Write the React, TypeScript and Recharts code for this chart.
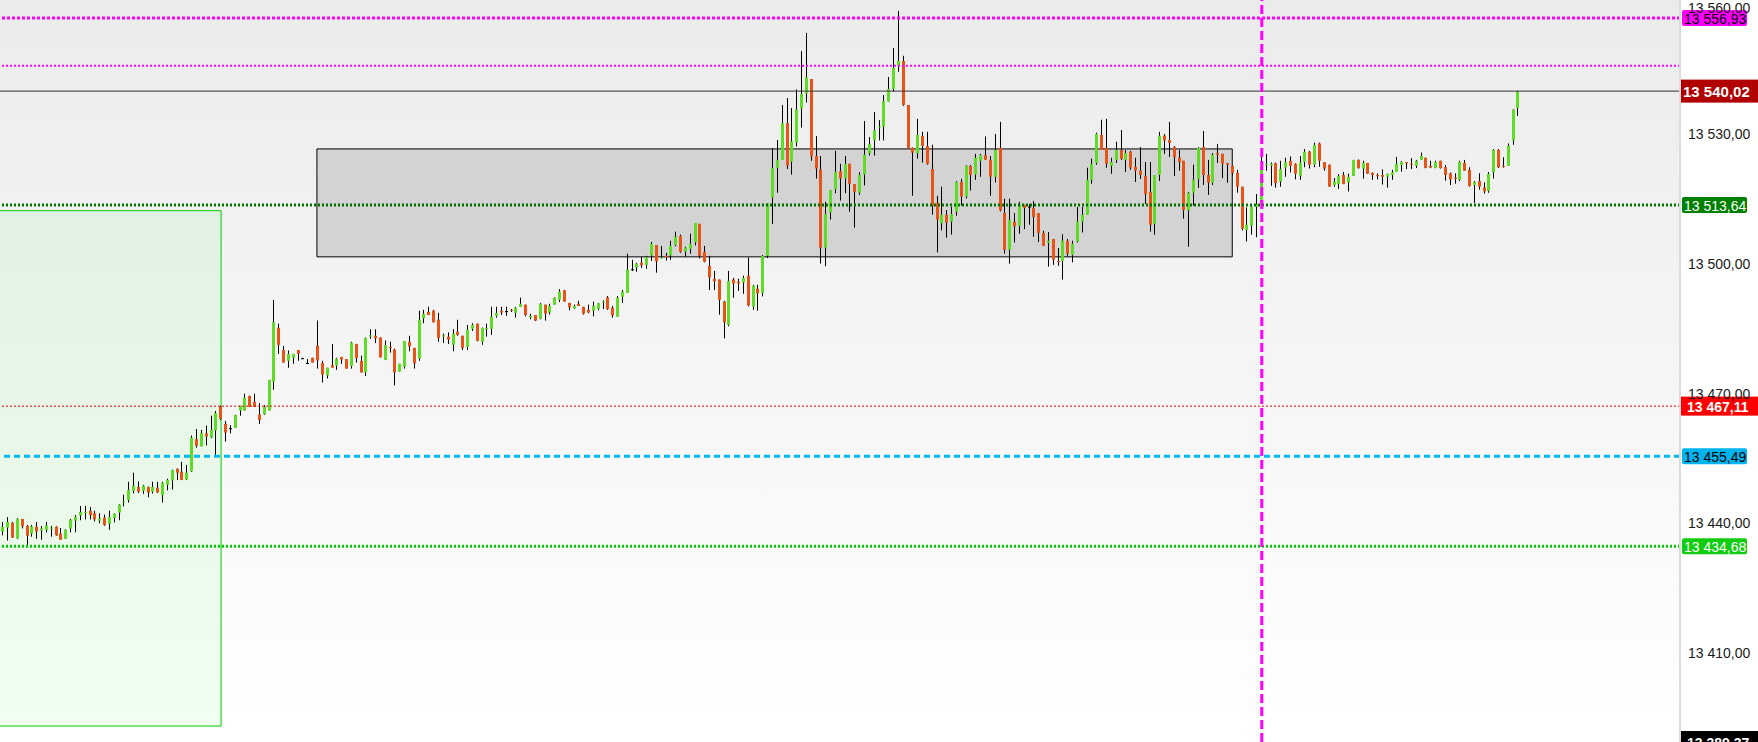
import React from 'react';
import { ComposedChart, Bar, XAxis, YAxis, ReferenceLine, ReferenceArea } from 'recharts';

// [open, high, low, close] per bar, oldest first
const ohlc: number[][] = [
  [13438.1,13440.3,13437.2,13439.2],[13439.0,13441.4,13436.0,13440.3],[13440.1,13440.3,13436.6,13436.7],[13436.5,13441.2,13436.4,13441.0],
  [13441.0,13441.0,13438.8,13439.3],[13439.4,13439.6,13435.0,13437.1],[13437.6,13439.6,13436.9,13439.3],[13439.2,13440.3,13436.4,13438.1],
  [13438.3,13439.4,13436.2,13438.8],[13438.5,13440.3,13437.9,13439.5],[13438.8,13439.4,13436.9,13439.0],[13439.2,13439.3,13437.1,13437.2],
  [13437.6,13438.9,13436.2,13436.2],[13436.4,13438.6,13436.4,13438.5],[13438.8,13441.0,13437.9,13440.8],[13440.6,13441.9,13437.9,13441.5],
  [13441.8,13444.0,13440.7,13442.6],[13442.4,13444.0,13440.9,13442.6],[13442.9,13443.8,13440.9,13441.9],[13442.3,13442.9,13440.4,13440.9],
  [13440.6,13442.3,13440.0,13441.1],[13441.3,13442.0,13439.4,13439.6],[13439.9,13442.9,13438.5,13441.5],[13441.2,13442.3,13440.2,13442.2],
  [13442.5,13444.4,13440.7,13444.3],[13444.8,13446.6,13443.9,13445.0],[13445.4,13449.6,13444.8,13447.7],[13447.5,13451.7,13446.9,13448.7],
  [13448.4,13449.7,13447.0,13447.3],[13447.5,13448.9,13446.8,13448.7],[13448.4,13448.5,13446.0,13447.1],[13447.3,13449.6,13446.9,13448.4],
  [13448.2,13449.6,13447.0,13447.1],[13446.5,13449.6,13444.8,13449.4],[13448.9,13450.3,13447.6,13450.0],[13449.9,13452.4,13447.8,13452.3],
  [13452.6,13452.7,13450.0,13451.7],[13451.9,13454.2,13450.0,13450.0],[13450.1,13453.5,13450.0,13451.7],[13452.0,13460.3,13451.9,13459.8],
  [13459.5,13461.8,13457.5,13457.9],[13457.8,13461.6,13457.8,13460.9],[13460.8,13462.6,13458.0,13460.1],[13459.9,13464.9,13459.7,13461.6],
  [13461.5,13466.0,13455.6,13465.5],[13467.0,13467.2,13463.9,13464.1],[13463.0,13463.7,13458.9,13461.0],[13462.0,13462.7,13460.8,13462.0],
  [13462.1,13465.1,13462.1,13465.1],[13466.1,13467.2,13464.9,13467.2],[13466.1,13470.0,13466.1,13469.1],[13469.5,13469.5,13466.9,13466.9],
  [13468.1,13470.0,13466.9,13466.9],[13465.2,13467.8,13463.0,13463.9],[13465.2,13467.3,13465.1,13466.9],[13466.1,13473.2,13466.1,13473.2],
  [13472.8,13491.7,13470.9,13486.5],[13485.2,13486.2,13479.2,13481.3],[13480.1,13481.0,13477.2,13477.2],[13477.6,13480.0,13476.0,13479.2],
  [13478.3,13479.2,13476.9,13479.2],[13480.1,13480.1,13477.6,13479.2],[13478.2,13478.3,13478.1,13478.2],[13477.1,13478.0,13477.1,13477.1],
  [13478.3,13478.3,13477.2,13477.2],[13481.1,13486.9,13475.8,13477.7],[13477.1,13477.6,13472.6,13474.4],[13474.2,13476.0,13473.5,13476.0],
  [13476.6,13481.5,13476.0,13476.0],[13476.5,13478.3,13475.5,13478.1],[13478.5,13478.5,13476.9,13477.9],[13478.0,13478.0,13475.8,13475.8],
  [13476.4,13482.0,13475.8,13481.8],[13481.5,13481.5,13477.2,13478.2],[13477.6,13478.8,13474.9,13474.9],[13474.9,13483.0,13474.1,13482.9],
  [13483.2,13484.9,13482.7,13483.5],[13483.4,13484.9,13481.7,13482.8],[13483.0,13483.0,13478.4,13478.4],[13477.8,13482.3,13477.8,13481.2],
  [13480.8,13482.0,13479.5,13480.7],[13480.2,13480.4,13471.9,13474.9],[13475.1,13476.9,13475.1,13476.9],[13476.2,13482.2,13475.8,13482.2],
  [13482.0,13483.4,13479.8,13480.9],[13480.6,13480.6,13475.8,13477.0],[13478.1,13489.2,13477.6,13487.1],[13487.4,13489.4,13486.3,13488.5],
  [13488.9,13490.1,13488.2,13488.2],[13489.2,13489.4,13486.5,13486.5],[13487.1,13488.7,13482.0,13482.9],[13483.2,13483.9,13481.7,13483.5],
  [13483.2,13484.2,13481.5,13482.5],[13481.3,13484.9,13479.8,13483.9],[13484.3,13487.1,13483.4,13483.6],[13483.4,13483.4,13480.1,13480.6],
  [13480.8,13485.9,13480.1,13484.8],[13485.0,13486.3,13484.5,13485.9],[13486.2,13486.2,13482.1,13482.2],[13482.0,13485.3,13481.3,13485.2],
  [13485.1,13486.2,13483.2,13485.2],[13485.0,13490.1,13483.6,13487.8],[13488.0,13490.1,13487.6,13488.7],[13489.2,13490.1,13488.2,13488.8],
  [13489.1,13490.1,13488.0,13489.1],[13489.4,13489.6,13488.9,13489.2],[13488.7,13490.1,13487.6,13489.9],[13490.1,13492.2,13490.1,13490.8],
  [13490.6,13490.6,13487.9,13488.2],[13487.6,13488.5,13487.2,13488.0],[13488.2,13488.2,13486.8,13486.9],[13487.3,13491.0,13487.2,13490.8],
  [13490.6,13490.6,13486.9,13488.5],[13488.8,13490.8,13488.3,13490.3],[13490.6,13492.3,13490.6,13492.2],[13491.7,13494.2,13491.2,13493.6],
  [13493.9,13494.0,13491.3,13491.3],[13491.0,13491.0,13489.3,13490.0],[13489.7,13490.6,13489.6,13490.3],[13490.8,13491.5,13490.3,13490.3],
  [13490.1,13490.1,13488.3,13488.5],[13489.4,13490.6,13488.6,13488.8],[13489.2,13491.3,13487.9,13490.3],[13489.6,13491.0,13489.3,13490.9],
  [13491.1,13491.6,13489.6,13491.3],[13492.3,13492.6,13489.4,13489.6],[13489.9,13490.3,13487.6,13488.1],[13487.8,13492.6,13487.8,13492.2],
  [13492.4,13494.0,13491.0,13493.6],[13493.3,13502.4,13493.3,13498.7],[13498.8,13501.0,13498.4,13498.8],[13499.2,13500.3,13498.2,13500.1],
  [13500.3,13501.6,13499.1,13499.7],[13499.8,13501.9,13498.9,13501.6],[13502.0,13505.1,13500.7,13504.7],[13504.4,13504.4,13498.0,13500.6],
  [13501.3,13504.2,13501.3,13501.5],[13501.9,13502.6,13500.8,13501.6],[13502.0,13505.4,13501.0,13504.2],[13504.4,13507.5,13504.1,13506.3],
  [13506.5,13506.8,13502.6,13502.8],[13502.9,13504.0,13501.7,13503.8],[13503.5,13507.0,13502.4,13504.7],[13505.0,13509.5,13504.3,13509.5],
  [13509.3,13509.3,13501.3,13501.9],[13502.8,13504.2,13500.4,13500.5],[13499.6,13501.9,13494.0,13496.9],[13496.6,13498.4,13494.0,13496.0],
  [13496.4,13496.4,13488.3,13491.7],[13491.3,13491.5,13482.8,13486.5],[13485.9,13498.4,13485.6,13496.1],[13496.4,13496.8,13492.2,13495.5],
  [13495.9,13496.6,13493.8,13495.5],[13495.7,13497.3,13493.1,13496.8],[13497.3,13501.5,13490.2,13490.4],[13490.1,13495.2,13489.4,13495.0],
  [13494.3,13495.2,13489.2,13493.2],[13493.3,13502.1,13492.5,13501.9],[13501.9,13514.1,13501.4,13514.1],[13515.4,13526.8,13509.3,13522.2],
  [13522.3,13528.7,13516.5,13524.1],[13524.1,13536.8,13524.1,13532.6],[13532.6,13538.4,13522.0,13522.8],[13523.7,13536.1,13520.7,13528.4],
  [13528.1,13540.4,13527.2,13535.8],[13536.0,13549.3,13531.6,13539.4],[13539.5,13553.5,13537.4,13543.2],[13542.8,13542.8,13523.9,13524.9],
  [13525.0,13529.6,13519.8,13522.1],[13521.9,13525.0,13500.1,13503.8],[13503.8,13514.4,13499.5,13511.6],[13511.9,13517.1,13510.3,13517.1],
  [13517.3,13526.2,13516.4,13521.3],[13521.5,13523.2,13514.7,13519.8],[13519.8,13525.0,13516.4,13523.2],[13523.2,13523.2,13512.1,13518.6],
  [13518.5,13518.5,13508.4,13516.7],[13516.5,13521.3,13516.0,13520.6],[13520.7,13533.1,13518.2,13525.3],[13525.6,13529.4,13525.1,13527.8],
  [13528.6,13535.2,13525.1,13531.0],[13531.6,13533.3,13528.6,13531.8],[13531.8,13539.1,13528.6,13537.7],[13537.6,13543.3,13537.6,13540.5],
  [13540.5,13550.0,13539.9,13545.4],[13545.9,13558.6,13544.5,13547.0],[13547.0,13548.2,13536.6,13536.8],[13536.8,13536.8,13526.9,13526.9],
  [13526.9,13527.0,13515.8,13525.8],[13525.6,13533.6,13524.4,13529.9],[13529.6,13530.6,13523.5,13527.3],[13527.3,13530.6,13523.0,13523.2],
  [13522.0,13527.6,13511.4,13513.5],[13514.2,13515.8,13502.7,13510.3],[13509.4,13517.9,13507.8,13511.4],[13511.4,13512.5,13506.1,13509.6],
  [13509.8,13513.2,13506.8,13511.6],[13512.1,13519.2,13511.2,13519.0],[13519.0,13519.7,13513.5,13515.6],[13515.6,13522.9,13515.2,13522.7],
  [13522.7,13522.9,13517.0,13520.6],[13520.7,13525.5,13519.5,13524.6],[13523.9,13525.5,13520.2,13525.2],[13525.2,13529.5,13524.1,13524.1],
  [13524.1,13525.0,13515.8,13520.2],[13520.2,13530.1,13518.9,13526.4],[13526.9,13532.9,13512.2,13512.4],[13511.8,13515.1,13502.4,13503.3],
  [13503.3,13515.1,13500.1,13510.2],[13509.8,13511.8,13505.0,13508.7],[13508.8,13514.4,13507.0,13513.7],[13513.7,13513.7,13508.1,13513.0],
  [13513.3,13513.9,13509.1,13513.3],[13513.0,13514.6,13506.3,13510.9],[13511.8,13511.8,13505.1,13507.2],[13507.2,13507.7,13504.2,13504.2],
  [13504.9,13507.4,13499.4,13505.4],[13505.8,13505.8,13499.8,13501.0],[13500.7,13503.7,13499.6,13500.6],[13500.7,13506.9,13496.4,13505.4],
  [13505.4,13505.8,13501.7,13502.4],[13502.1,13505.4,13500.4,13504.7],[13505.2,13513.2,13505.0,13509.8],[13509.8,13513.2,13507.3,13511.4],
  [13511.4,13522.3,13511.4,13519.5],[13519.5,13524.4,13518.6,13523.2],[13523.4,13530.4,13523.0,13530.1],[13529.9,13533.4,13526.4,13526.4],
  [13526.9,13533.6,13522.3,13523.2],[13522.7,13524.6,13520.9,13523.6],[13524.1,13528.3,13523.4,13526.4],[13526.4,13531.0,13524.1,13524.3],
  [13524.1,13526.4,13521.3,13525.7],[13526.0,13526.2,13521.8,13522.3],[13522.5,13524.6,13519.0,13521.6],[13521.6,13527.1,13519.7,13520.6],
  [13520.4,13523.6,13513.9,13516.2],[13516.7,13523.6,13507.5,13509.1],[13509.3,13520.6,13506.8,13520.6],[13520.6,13530.6,13519.2,13529.7],
  [13529.7,13530.1,13525.5,13528.6],[13528.7,13532.9,13524.8,13528.0],[13527.1,13527.3,13520.4,13524.7],[13524.6,13526.4,13521.6,13523.6],
  [13523.9,13523.9,13510.5,13512.5],[13512.4,13516.7,13504.0,13516.5],[13516.5,13523.0,13513.5,13519.5],[13519.7,13527.1,13517.6,13526.9],
  [13527.1,13530.8,13518.3,13520.6],[13520.6,13524.1,13516.0,13518.8],[13518.8,13525.7,13518.3,13525.3],[13525.7,13527.8,13523.4,13525.3],
  [13525.5,13525.5,13519.9,13523.2],[13523.4,13523.4,13518.8,13523.0],[13522.7,13522.7,13520.4,13521.1],[13521.1,13521.8,13516.5,13517.9],
  [13517.9,13517.9,13507.8,13508.2],[13507.9,13513.1,13505.2,13509.1],[13508.9,13513.5,13506.8,13513.2],[13513.2,13516.2,13506.2,13513.8],
  [13514.1,13525.3,13513.9,13522.4],[13523.0,13525.5,13521.6,13523.2],[13522.8,13523.5,13518.1,13523.2],[13523.3,13523.5,13517.7,13518.7],
  [13519.1,13523.9,13517.9,13522.0],[13522.3,13524.6,13520.2,13523.6],[13523.9,13524.9,13521.2,13522.7],[13523.2,13523.3,13519.6,13520.9],
  [13520.4,13525.0,13519.5,13523.5],[13523.6,13526.6,13522.4,13526.0],[13526.0,13526.2,13522.1,13523.0],[13523.0,13528.1,13522.4,13527.6],
  [13527.9,13528.1,13522.5,13523.9],[13523.6,13523.6,13521.6,13522.1],[13523.0,13523.0,13517.9,13517.9],[13518.3,13519.9,13517.9,13519.1],
  [13518.5,13520.8,13517.4,13520.4],[13520.6,13521.3,13518.5,13518.5],[13518.9,13520.9,13516.8,13520.2],[13520.4,13524.1,13520.4,13524.1],
  [13524.1,13524.2,13522.1,13522.2],[13522.1,13523.9,13519.8,13523.4],[13523.4,13523.4,13520.9,13520.9],[13521.1,13521.2,13519.5,13520.6],
  [13520.6,13521.0,13519.6,13520.4],[13520.6,13521.9,13518.4,13520.2],[13520.2,13520.9,13517.7,13520.9],[13520.6,13521.8,13519.5,13521.2],
  [13521.3,13524.8,13521.3,13523.2],[13522.9,13523.8,13521.4,13523.6],[13523.6,13523.6,13522.0,13523.3],[13523.2,13524.5,13522.0,13523.0],
  [13522.7,13524.1,13522.2,13523.9],[13524.1,13525.8,13524.1,13525.0],[13524.6,13524.6,13522.2,13522.2],[13522.7,13523.9,13522.2,13522.3],
  [13522.2,13523.9,13522.2,13523.6],[13523.9,13523.9,13522.1,13522.2],[13522.4,13522.9,13519.3,13520.6],[13521.0,13521.2,13518.3,13519.6],
  [13520.0,13521.0,13518.6,13519.7],[13519.5,13523.9,13519.2,13523.6],[13523.4,13524.1,13521.6,13521.6],[13521.8,13522.4,13517.9,13518.1],
  [13518.3,13519.2,13514.1,13519.0],[13519.2,13521.0,13517.2,13517.9],[13517.7,13518.9,13516.3,13516.8],[13516.9,13521.3,13516.5,13520.9],
  [13521.2,13526.6,13519.8,13526.4],[13526.4,13526.6,13522.2,13522.4],[13522.7,13524.7,13522.3,13522.5],[13522.7,13527.9,13522.7,13527.4],
  [13528.6,13535.8,13527.6,13535.8],[13536.1,13540.1,13534.3,13540.02],
];

const priceTicks = [13410, 13440, 13470, 13500, 13530, 13560];
const yMin = 13389.37;
const yMax = 13561.11;

// horizontal levels drawn on the chart
const levelTop = 13556.93;
const levelUpper = 13545.9;
const lastPrice = 13540.02;
const levelBox = 13513.64;
const levelRed = 13467.11;
const levelCyan = 13455.49;
const levelLow = 13434.68;

// rectangles (bar index range, price range) and the vertical marker
const greenZone = { x1: -3, x2: 45.2, y1: 13393.06, y2: 13512.35 };
const grayZone = { x1: 65.0, x2: 254.1, y1: 13501.66, y2: 13526.64 };
const markerBar = 260.2;

const UP = '#60dc28';
const DOWN = '#e85418';
const FONT = '"Liberation Sans", Arial, sans-serif';

const data = ohlc.map((d, i) => ({ i, o: d[0], h: d[1], l: d[2], c: d[3] }));

const fmt = (v: number) => {
  const [a, b] = v.toFixed(2).split('.');
  return a.replace(/\B(?=(\d{3})+(?!\d))/g, ' ') + ',' + b;
};

const Candle = (props: any) => {
  const { x, y, width, height, payload } = props;
  if (x == null || y == null) return null;
  const { o, h, l, c } = payload;
  const cx = Math.round(x + width / 2);
  const top = Math.min(y, y + height);
  const span = Math.abs(height);
  const ppu = h > l ? span / (h - l) : 0;
  const py = (v: number) => top + (h - v) * ppu;
  const bTop = py(Math.max(o, c));
  const bBot = py(Math.min(o, c));
  const color = c > o ? UP : c < o ? DOWN : '#000';
  return (
    <g>
      <rect x={cx} y={top} width={1} height={Math.max(span, 1)} fill="#000" />
      <rect x={cx - 1} y={bTop} width={3} height={Math.max(bBot - bTop, 1)} fill={color} />
    </g>
  );
};

const badge = (value: number, bg: string, fg: string, wide = false, h = 16, size = 14) => (p: any) => {
  const vb = p.viewBox || {};
  const right = (vb.x ?? 0) + (vb.width ?? 0);
  const cy = vb.y ?? 0;
  const bx = wide ? right : right + 2;
  const bw = wide ? 78 : 65;
  return (
    <g>
      <rect x={bx} y={cy - h / 2} width={bw} height={h} rx={wide ? 0 : 2} fill={bg} />
      <text
        x={wide ? right + (size > 14 ? 3 : 7) : right + 4}
        y={cy + 0.5}
        dominantBaseline="central"
        fontFamily={FONT}
        fontSize={size}
        fontWeight={wide ? 'bold' : 'normal'}
        fill={fg}
      >
        {fmt(value)}
      </text>
    </g>
  );
};

export default function App() {
  return (
    <div
      style={{
        width: 1758,
        height: 742,
        backgroundColor: '#fff',
        backgroundImage: 'linear-gradient(to bottom, #ebebeb, #ffffff)',
        backgroundSize: '1680px 742px',
        backgroundRepeat: 'no-repeat',
      }}
    >
      <style>{'body{margin:0;overflow:hidden}'}</style>
      <ComposedChart width={1758} height={742} data={data} margin={{ top: 0, right: 0, bottom: 0, left: 0 }}>
        <XAxis dataKey="i" type="number" domain={[-0.475, 346.6]} hide allowDataOverflow />
        <YAxis
          orientation="right"
          type="number"
          domain={[yMin, yMax]}
          ticks={priceTicks}
          allowDataOverflow
          width={78}
          tickLine={false}
          axisLine={{ stroke: '#dcdcdc', strokeWidth: 2 }}
          tick={{ fontSize: 14, fill: '#1a1a1a', fontFamily: FONT }}
          tickFormatter={fmt}
        />
        <ReferenceArea {...greenZone} ifOverflow="hidden" fill="#00ff00" fillOpacity={0.06} stroke="#00cc00" strokeWidth={1} />
        <ReferenceArea {...grayZone} fill="#d3d3d3" fillOpacity={1} stroke="#000" strokeWidth={1} />
        <Bar dataKey={(d: any) => [d.l, d.h]} barSize={3} shape={Candle} isAnimationActive={false} />
        <ReferenceLine y={levelTop} stroke="#ff00ff" strokeWidth={3} strokeDasharray="3 2" label={badge(levelTop, '#ff00ff', '#000')} />
        <ReferenceLine y={levelUpper} stroke="#ff00ff" strokeWidth={2} strokeDasharray="2 2" />
        <ReferenceLine y={lastPrice} stroke="#333" strokeWidth={1} label={badge(lastPrice, '#b00000', '#fff', true, 23, 15)} />
        <ReferenceLine y={levelBox} stroke="#007000" strokeWidth={3} strokeDasharray="2 2" label={badge(levelBox, '#008000', '#fff')} />
        <ReferenceLine y={levelRed} stroke="#e00000" strokeWidth={1} strokeDasharray="2 2" label={badge(levelRed, '#ff0000', '#fff', true, 19, 14)} />
        <ReferenceLine y={levelCyan} stroke="#00bbee" strokeWidth={3} strokeDasharray="6 4" label={badge(levelCyan, '#00b4f0', '#000')} />
        <ReferenceLine y={levelLow} stroke="#00cc00" strokeWidth={3} strokeDasharray="2 2" label={badge(levelLow, '#11cc11', '#fff')} />
        <ReferenceLine y={yMin} stroke="none" label={badge(yMin, '#000', '#fff', true, 22, 14)} />
        <ReferenceLine x={markerBar} stroke="#ff00ff" strokeWidth={3} strokeDasharray="9 4" />
      </ComposedChart>
    </div>
  );
}
